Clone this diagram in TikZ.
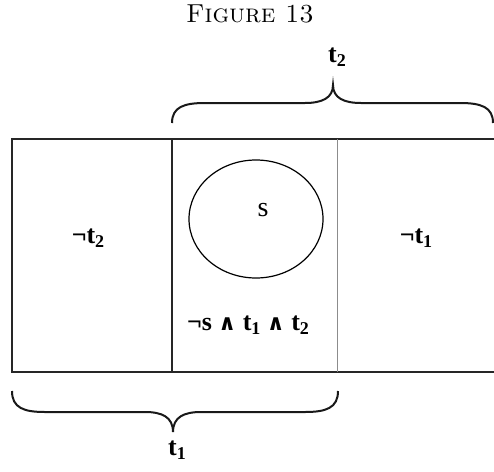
\documentclass[tikz,border=0pt]{standalone}
\usepackage{fontspec}
\newfontfamily\tnr{Liberation Serif}
\newfontfamily\dvs{DejaVu Sans}
\newcommand{\tsub}[1]{\raisebox{-0.35ex}{\fontsize{18}{18}\selectfont #1}}
\newcommand{\wdg}{{\dvs\fontsize{22}{22}\selectfont\bfseries ∧}}
\begin{document}
\begin{tikzpicture}[x=1pt,y=-1pt,
  frame/.style={line width=1.5pt,draw=black!85},
  divider/.style={line width=1pt,draw=black!45},
  brace/.style={line width=2pt,draw=black!90},
  lbl/.style={font=\tnr\fontsize{26}{26}\selectfont\bfseries, inner sep=0pt},
  plainlbl/.style={font=\tnr\fontsize{28}{28}\selectfont, inner sep=0pt}]
\useasboundingbox (0,0) rectangle (494,471);
\node[font=\fontsize{26}{26}\selectfont\scshape, inner sep=0pt] (title) at (250,14) {Figure 13};
% frame
\coordinate (tl) at (12,139);
\coordinate (tr) at (494,139);
\coordinate (bl) at (12,372);
\coordinate (br) at (494,372);
\draw[frame] (tr) -- (tl) -- (bl) -- (br);
\coordinate (m1t) at (172,139); \coordinate (m1b) at (172,372);
\coordinate (m2t) at (337,139); \coordinate (m2b) at (337,372);
\draw[frame] (m1t) -- (m1b);
\draw[divider] (m2t) -- (m2b);
% circle
\draw[line width=1.2pt] (256,219) ellipse [x radius=67, y radius=59];
\node[plainlbl] (s) at (263,210) {s};
\node[lbl] (nt2) at (88,238) {¬t\tsub{2}};
\node[lbl] (nt1) at (416,238) {¬t\tsub{1}};
\node[lbl] (conj) at (248,325) {¬s \wdg\ t\tsub{1} \wdg\ t\tsub{2}};
% top brace
\draw[brace] (172,123) .. controls (172,107) and (184,103) .. (205,103) -- (305,103)
  .. controls (322,103) and (333,98) .. (333,85)
  .. controls (333,98) and (344,103) .. (361,103) -- (460,103)
  .. controls (481,103) and (493,107) .. (493,123);
\node[lbl] (t2) at (337,57) {t\tsub{2}};
% bottom brace
\draw[brace] (12,391) .. controls (12,408) and (24,412) .. (45,412) -- (145,412)
  .. controls (162,412) and (173,417) .. (173,432)
  .. controls (173,417) and (184,412) .. (201,412) -- (305,412)
  .. controls (326,412) and (338,408) .. (338,391);
\node[lbl] (t1) at (177,450) {t\tsub{1}};
\end{tikzpicture}
\end{document}
